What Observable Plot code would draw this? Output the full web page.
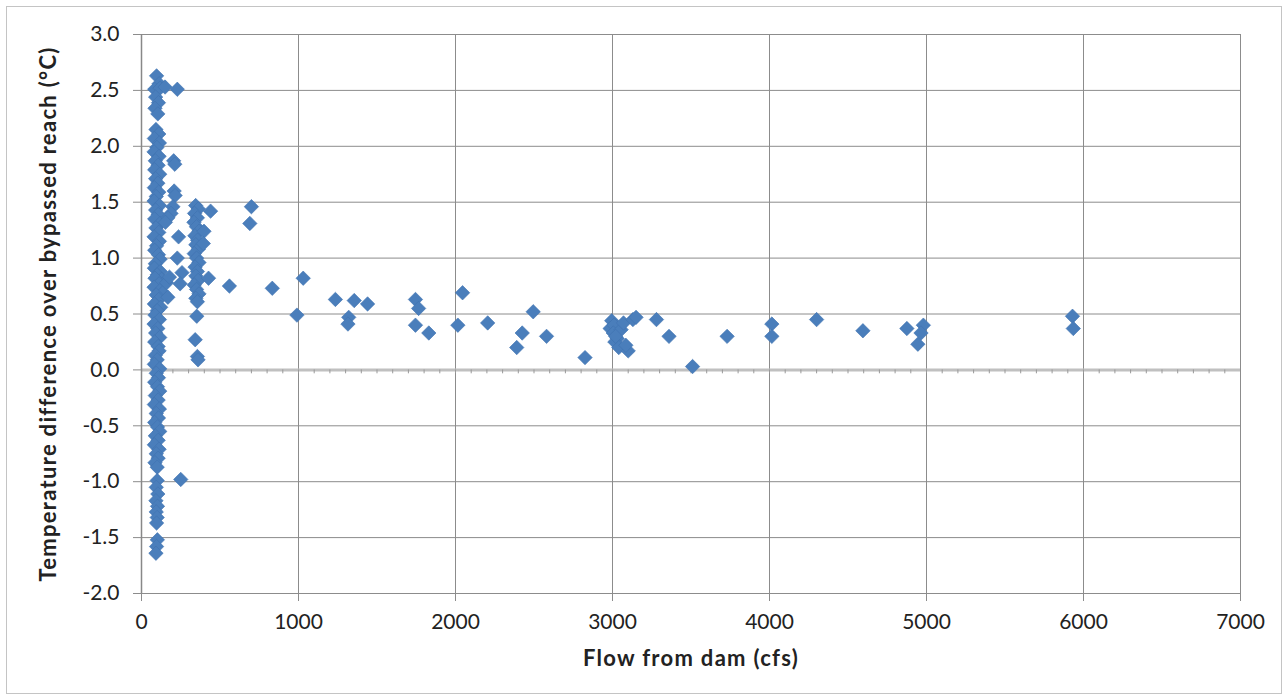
<!DOCTYPE html>
<html>
<head>
<meta charset="utf-8">
<script src="https://cdn.jsdelivr.net/npm/d3@7"></script>
<script src="https://cdn.jsdelivr.net/npm/@observablehq/plot@0.6"></script>
<style>
  html, body { margin: 0; padding: 0; background: #fff; overflow: hidden; }
  #wrap { position: relative; width: 1287px; height: 699px; }
  #border { position: absolute; left: 6px; top: 6px; width: 1274px; height: 686px; border: 1px solid #c4c4c4; pointer-events: none; }
</style>
</head>
<body>
<div id="wrap"><div id="border"></div></div>
<script>
// Flow from dam (cfs), temperature difference (°C)
const mainColumn = [
  [96,2.63],[112,2.56],[84,2.51],[118,2.52],[90,2.44],[108,2.39],[86,2.34],[104,2.29],
  [92,2.15],[110,2.11],[82,2.07],[114,2.03],[98,1.99],[80,1.95],[112,1.91],[88,1.87],[106,1.83],[84,1.79],
  [116,1.75],[90,1.71],[104,1.67],[82,1.63],[110,1.59],[94,1.55],[80,1.51],[115,1.47],[90,1.43],[106,1.39],
  [84,1.35],[118,1.31],[92,1.27],[110,1.23],[80,1.19],[114,1.15],[96,1.11],[84,1.07],[108,1.03],[118,0.99],
  [88,0.95],[82,0.91],[120,0.88],[100,0.85],[128,0.81],[86,0.82],[112,0.77],[80,0.74],[118,0.71],[136,0.69],
  [94,0.67],[110,0.63],[82,0.59],[122,0.56],[100,0.53],[86,0.49],[114,0.45],[80,0.41],[104,0.37],[90,0.33],
  [116,0.29],[84,0.25],[106,0.21],[112,0.17],[88,0.13],[100,0.09],[82,0.05],[116,0.01],[94,-0.03],[108,-0.07],
  [84,-0.11],[102,-0.15],[116,-0.19],[88,-0.23],[106,-0.27],[82,-0.31],[114,-0.35],[94,-0.39],[108,-0.43],
  [84,-0.47],[102,-0.51],[116,-0.55],[88,-0.59],[106,-0.63],[82,-0.67],[112,-0.71],[94,-0.75],[106,-0.79],
  [86,-0.83],[100,-0.87],
  [100,-0.99],[94,-1.05],[104,-1.11],[92,-1.17],[102,-1.22],[94,-1.27],[100,-1.32],[96,-1.37],
  [101,-1.52],[96,-1.58],[92,-1.64]
];
const nearColumn = [
  [150,2.53],[228,2.51],[205,1.87],[212,1.84],[208,1.60],[214,1.56],[200,1.46],[188,1.40],[168,1.36],
  [152,1.32],[236,1.19],[228,1.00],[258,0.87],[246,0.77],[168,0.65],[160,0.78],[178,0.83],[250,-0.98]
];
const secondColumn = [
  [345,1.47],[362,1.44],[338,1.40],[356,1.36],[334,1.32],[350,1.28],[366,1.24],[340,1.20],[357,1.16],
  [346,1.12],[362,1.08],[336,1.04],[351,1.00],[366,0.96],[341,0.92],[356,0.88],[346,0.84],[361,0.80],
  [336,0.76],[351,0.72],[366,0.68],[346,0.64],[356,0.61],[352,0.48],[342,0.27],[356,0.12],[360,0.09],
  [440,1.42],[398,1.24],[394,1.13],[427,0.82],[560,0.75],[700,1.46],[690,1.31],[833,0.73]
];
const midFlows = [
  [990,0.49],[1030,0.82],[1235,0.63],[1355,0.62],[1440,0.59],[1320,0.47],[1315,0.41],[1745,0.63],
  [1765,0.55],[1745,0.40],[1830,0.33],[2045,0.69],[2015,0.40],[2205,0.42],[2495,0.52],[2425,0.33],
  [2390,0.20],[2580,0.30],[2825,0.11]
];
const cluster3000 = [
  [2995,0.44],[2985,0.37],[3010,0.40],[3005,0.33],[3030,0.28],[3015,0.25],[3040,0.20],[3055,0.36],
  [3070,0.42],[3100,0.17],[3085,0.22],[3130,0.45],[3150,0.47],[3020,0.30]
];
const highFlows = [
  [3280,0.45],[3360,0.30],[3510,0.03],[3730,0.30],[4015,0.41],[4015,0.30],[4300,0.45],[4595,0.35],
  [4875,0.37],[4980,0.40],[4965,0.33],[4945,0.23],[5930,0.48],[5935,0.37]
];
const xTicks = [0,1000,2000,3000,4000,5000,6000,7000];
const yTicks = [-2,-1.5,-1,-0.5,0,0.5,1,1.5,2,2.5,3];
const minorX = d3.range(100, 7000, 100);
const xTitle = "Flow from dam (cfs)";
const yTitle = "Temperature difference over bypassed reach (°C)";

const points = [...mainColumn, ...nearColumn, ...secondColumn, ...midFlows, ...cluster3000, ...highFlows]
  .map(([x, y]) => ({x, y}));

const chart = Plot.plot({
  width: 1287,
  height: 699,
  marginLeft: 141,
  marginRight: 47,
  marginTop: 34,
  marginBottom: 106,
  style: {fontFamily: "Lato, sans-serif", fontSize: "21px", color: "#222", background: "transparent"},
  x: {domain: [0, 7000]},
  y: {domain: [-2, 3]},
  marks: [
    Plot.gridX(xTicks, {stroke: "#8c8c8c", strokeOpacity: 1}),
    Plot.gridY(yTicks, {stroke: "#8c8c8c", strokeOpacity: 1}),
    Plot.ruleY([0], {stroke: "#c0c0c0", strokeWidth: 3}),
    Plot.ruleX(minorX, {x: d => d, y1: 0, y2: -0.035, stroke: "#999"}),
    Plot.ruleX([0], {stroke: "#888", strokeWidth: 1.5}),
    Plot.axisX(xTicks, {tickSize: 8, tickPadding: 13, stroke: "#8c8c8c", tickFormat: d => String(d), label: null}),
    Plot.axisY(yTicks, {tickSize: 8, tickPadding: 14, stroke: "#8c8c8c", tickFormat: d => d.toFixed(1), label: null}),
    Plot.text([xTitle], {frameAnchor: "bottom", dy: 72, text: d => d, fontWeight: "bold", fontSize: 22, fill: "#222"}),
    Plot.text([yTitle], {frameAnchor: "left", textAnchor: "middle", dx: -93, rotate: -90, text: d => d, fontWeight: "bold", fontSize: 22, fill: "#222"}),
    Plot.dot(points, {x: "x", y: "y", symbol: "diamond2", r: 6.5, fill: "#4A7EBB", stroke: "#3F72B0", strokeWidth: 0.6})
  ]
});
// widen the bold axis titles slightly (Calibri-like spacing)
d3.select(chart).selectAll("g[aria-label='text'] text").style("letter-spacing", "1.3px");
document.getElementById("wrap").prepend(chart);
</script>
</body>
</html>
